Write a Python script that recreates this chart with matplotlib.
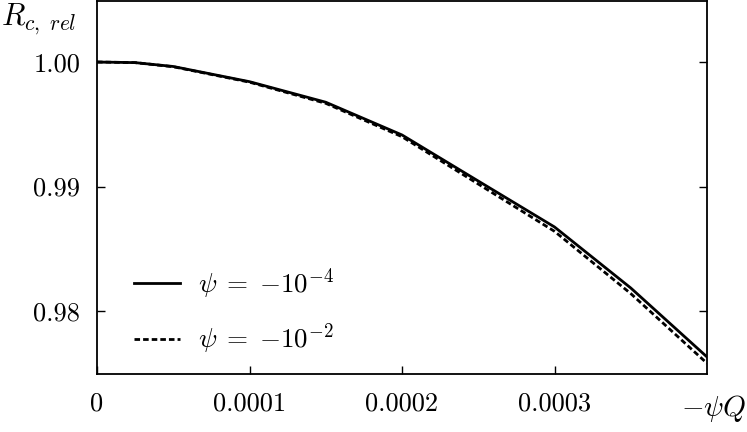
import matplotlib
matplotlib.use("Agg")
import matplotlib.pyplot as plt
from matplotlib.ticker import FixedLocator, FixedFormatter

plt.rcParams['font.family'] = 'serif'
plt.rcParams['font.serif'] = ['cmr10', 'DejaVu Serif']
plt.rcParams['mathtext.fontset'] = 'cm'
plt.rcParams['axes.unicode_minus'] = False

x_vals = [0.0, 0.000025, 0.00005, 0.0001, 0.00015, 0.0002, 0.00025, 0.0003, 0.00035, 0.0004]
r_psi_m4 = [1.0000, 0.99995, 0.99964, 0.99842, 0.99677, 0.99414, 0.99044, 0.98675, 0.98185, 0.97631]
r_psi_m2 = [1.0000, 0.99995, 0.99962, 0.99838, 0.99668, 0.99400, 0.99020, 0.98640, 0.98140, 0.97580]

x_ticks = [0.0, 0.0001, 0.0002, 0.0003]
x_ticklabels = ['0', '0.0001', '0.0002', '0.0003']
y_ticks = [0.98, 0.99, 1.00]
y_ticklabels = ['0.98', '0.99', '1.00']
labels = [r'$\psi\;=\;{-}10^{-4}$', r'$\psi\;=\;{-}10^{-2}$']

fig = plt.figure(figsize=(7.47, 4.32), dpi=100)
ax = fig.add_axes([97/747, 1 - 374/432, (707-97)/747, (374-1)/432])

ax.plot(x_vals, r_psi_m4, color='black', lw=2.0, label=labels[0])
ax.plot(x_vals, r_psi_m2, color='black', lw=2.0, dashes=[2.0, 1.1], label=labels[1])

ax.set_xlim(0, 0.0004)
ax.set_ylim(0.97494, 1.0049)

ax.xaxis.set_major_locator(FixedLocator(x_ticks))
ax.xaxis.set_major_formatter(FixedFormatter(x_ticklabels))
ax.yaxis.set_major_locator(FixedLocator(y_ticks))
ax.yaxis.set_major_formatter(FixedFormatter(y_ticklabels))
ax.minorticks_off()
ax.tick_params(axis='both', direction='in', length=6, width=1.0, labelsize=19)
ax.tick_params(axis='x', pad=13)
ax.tick_params(axis='y', pad=12, right=True)
for s in ax.spines.values():
    s.set_linewidth(1.3)

leg = ax.legend(loc='lower left', bbox_to_anchor=(0.043, 0.018), frameon=False,
                fontsize=19.5, handlelength=1.7, handletextpad=0.65, labelspacing=0.75,
                borderaxespad=0.0)

fig.text(1/747, 1 - 19/432, r'$R_{c,\ rel}$', fontsize=22, ha='left', va='center')
fig.text(746/747, 1 - 408/432, r'$-\psi Q$', fontsize=21, ha='right', va='center')

fig.savefig('out.png', dpi=100)
